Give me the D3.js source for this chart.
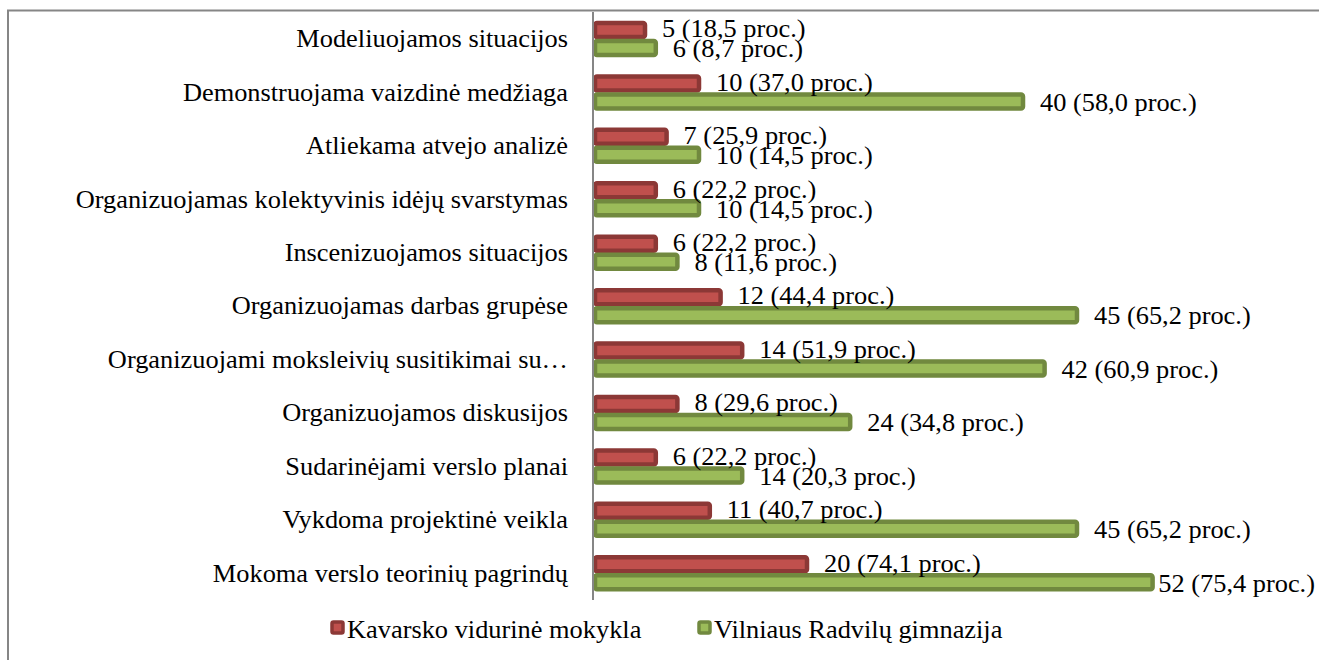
<!DOCTYPE html>
<html><head><meta charset="utf-8">
<script src="https://cdn.jsdelivr.net/npm/d3@7"></script>
<style>body{margin:0;background:#fff;overflow:hidden}</style>
</head><body><svg id="c" width="1319" height="660"></svg>
<script>
const categories = [
  "Modeliuojamos situacijos",
  "Demonstruojama vaizdinė medžiaga",
  "Atliekama atvejo analizė",
  "Organizuojamas kolektyvinis idėjų svarstymas",
  "Inscenizuojamos situacijos",
  "Organizuojamas darbas grupėse",
  "Organizuojami moksleivių susitikimai su…",
  "Organizuojamos diskusijos",
  "Sudarinėjami verslo planai",
  "Vykdoma projektinė veikla",
  "Mokoma verslo teorinių pagrindų"
];
const kavarskoCounts   = [5, 10, 7, 6, 6, 12, 14, 8, 6, 11, 20];
const kavarskoPercents = [18.5, 37.0, 25.9, 22.2, 22.2, 44.4, 51.9, 29.6, 22.2, 40.7, 74.1];
const vilniusCounts    = [6, 40, 10, 10, 8, 45, 42, 24, 14, 45, 52];
const vilniusPercents  = [8.7, 58.0, 14.5, 14.5, 11.6, 65.2, 60.9, 34.8, 20.3, 65.2, 75.4];
const seriesNames = ["Kavarsko vidurinė mokykla", "Vilniaus Radvilų gimnazija"];
const xDomainMax = 60;

const FONT = "'Liberation Serif','Times New Roman',serif";
const FS = 25, SX = 1.055;
const GRAY = "#868686";
const fills = ["#c0504d", "#9bbb59"];
const strokes = ["#8c3836", "#71893f"];

const svg = d3.select("#c");

const x = d3.scaleLinear().domain([0, xDomainMax]).range([593, 1241]);
const y = d3.scaleBand().domain(categories).range([12.3, 600]);
const groupH = 36;
const sub = d3.scaleBand().domain([0, 1]).range([0, groupH]);

function sText(g, tx, ty, str, anchor) {
  const t = g.append("g").attr("transform", `translate(${tx},${ty}) scale(${SX},1)`)
    .append("text")
    .attr("font-family", FONT).attr("font-size", FS).attr("fill", "#000")
    .attr("text-anchor", anchor || "start")
    .attr("dominant-baseline", "central")
    .text(str);
  return t;
}
const fmt = v => v.toFixed(1).replace(".", ",");

// chart border
svg.append("path").attr("d", "M8,660V10.5H1319").attr("fill", "none")
  .attr("stroke", GRAY).attr("stroke-width", 2);

const series = [
  {counts: kavarskoCounts, pcts: kavarskoPercents},
  {counts: vilniusCounts, pcts: vilniusPercents}
];

const labelsG = svg.append("g");
const barsG = svg.append("g");

categories.forEach((c, i) => {
  const center = y(c) + y.bandwidth() / 2;
  const top = center - groupH / 2;
  sText(labelsG, 568, center, c, "end");
  series.forEach((s, k) => {
    const by = top + sub(k);
    const bh = sub.bandwidth();
    barsG.append("rect")
      .attr("x", x(0) + 2).attr("y", by + 2)
      .attr("width", Math.max(0, x(s.counts[i]) - x(0) - 4))
      .attr("height", bh - 4)
      .attr("rx", 2)
      .attr("fill", fills[k]).attr("stroke", strokes[k]).attr("stroke-width", 4.5);
  });
});

// axis line
svg.append("line").attr("x1", 593).attr("x2", 593).attr("y1", 12).attr("y2", 600)
  .attr("stroke", GRAY).attr("stroke-width", 2);

// data labels
const dl = svg.append("g");
categories.forEach((c, i) => {
  const center = y(c) + y.bandwidth() / 2;
  const top = center - groupH / 2;
  series.forEach((s, k) => {
    const by = top + sub(k) + sub.bandwidth() / 2 + (k === 0 ? -1 : 1);
    const str = `${s.counts[i]} (${fmt(s.pcts[i])} proc.)`;
    let lx = x(s.counts[i]) + 15;
    const t = sText(dl, lx, by, str, "start");
    const w = t.node().getComputedTextLength() * SX;
    if (lx + w > 1315) {
      lx = 1315 - w;
      t.node().parentNode.setAttribute("transform", `translate(${lx},${by}) scale(${SX},1)`);
    }
  });
});

// legend
const leg = svg.append("g");
const legPos = [330, 697];
seriesNames.forEach((n, k) => {
  leg.append("rect").attr("x", legPos[k] + 2).attr("y", 622).attr("width", 11).attr("height", 11)
    .attr("rx", 1.5).attr("fill", fills[k]).attr("stroke", strokes[k]).attr("stroke-width", 3.5);
  sText(leg, legPos[k] + 17, 630, n, "start");
});
</script>
</body></html>
